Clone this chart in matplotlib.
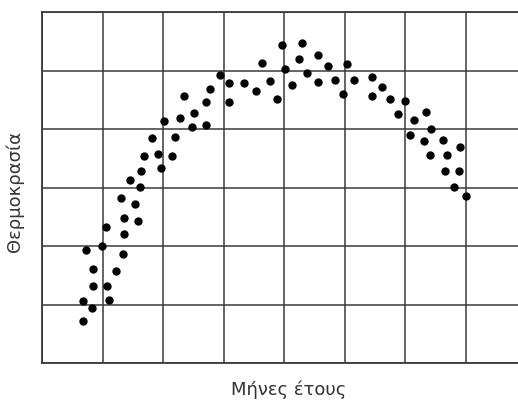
import matplotlib
matplotlib.use("Agg")
import matplotlib.pyplot as plt

# month position (grid units) and temperature (grid units)
months = [0.67, 0.68, 0.83, 0.85, 1.08, 1.10, 0.85, 1.22, 0.72, 0.99,
          1.34, 1.06, 1.36, 1.35, 1.59, 1.30, 1.54, 1.45, 1.61, 1.64,
          1.96, 1.68, 1.92, 2.15, 1.82, 2.20, 2.01, 2.28, 2.48, 2.70,
          2.51, 2.34, 2.70, 2.78, 3.08, 2.94, 3.09, 3.34, 3.53, 3.63,
          3.77, 3.88, 3.96, 4.02, 4.13, 4.25, 4.29, 4.38, 4.56, 4.56,
          4.72, 4.83, 5.03, 4.97, 5.15, 5.45, 5.44, 5.61, 5.75, 5.88,
          5.99, 6.14, 6.34, 6.42, 6.08, 6.31, 6.62, 6.90, 6.41, 6.68,
          6.65, 6.89, 6.80, 7.00]
temps = [0.71, 1.06, 0.94, 1.32, 1.32, 1.08, 1.61, 1.57, 1.93, 2.00,
         1.87, 2.33, 2.20, 2.48, 2.43, 2.82, 2.72, 3.13, 3.01, 3.29,
         3.34, 3.54, 3.58, 3.54, 3.85, 3.86, 4.14, 4.18, 4.03, 4.06,
         4.27, 4.56, 4.46, 4.69, 4.47, 4.93, 4.79, 4.79, 4.65, 5.12,
         4.82, 4.52, 5.44, 5.03, 4.75, 5.19, 5.47, 4.96, 5.27, 4.80,
         5.08, 4.83, 5.11, 4.60, 4.84, 4.89, 4.56, 4.72, 4.51, 4.26,
         4.48, 4.15, 4.29, 4.00, 3.89, 3.80, 3.82, 3.69, 3.56, 3.56,
         3.29, 3.29, 3.01, 2.86]

x_label = "Μήνες έτους"
y_label = "Θερμοκρασία"

line_col = "#3a3a3a"

fig = plt.figure(figsize=(5.18, 4.05), dpi=100)
ax = fig.add_axes([42 / 518, 42 / 405, 476 / 518, 351 / 405])

ax.scatter(months, temps, s=36, color="black", zorder=3, linewidths=0)

ax.set_xlim(0, 476 / 60.57)
ax.set_ylim(0, 6)
ax.set_xticks(range(0, 8))
ax.set_yticks(range(0, 7))
ax.grid(True, color=line_col, linewidth=1.1)
ax.tick_params(length=0, labelbottom=False, labelleft=False)
for side in ["left", "bottom", "top"]:
    ax.spines[side].set_color(line_col)
    ax.spines[side].set_linewidth(1.3)
ax.spines["right"].set_visible(False)

fig.text(0.558, 0.037, x_label, ha="center", va="center",
         fontsize=13, color="#333333")
fig.text(0.029, 0.528, y_label, ha="center", va="center", rotation=90,
         fontsize=13, color="#333333")

fig.savefig("out.png", dpi=100)
